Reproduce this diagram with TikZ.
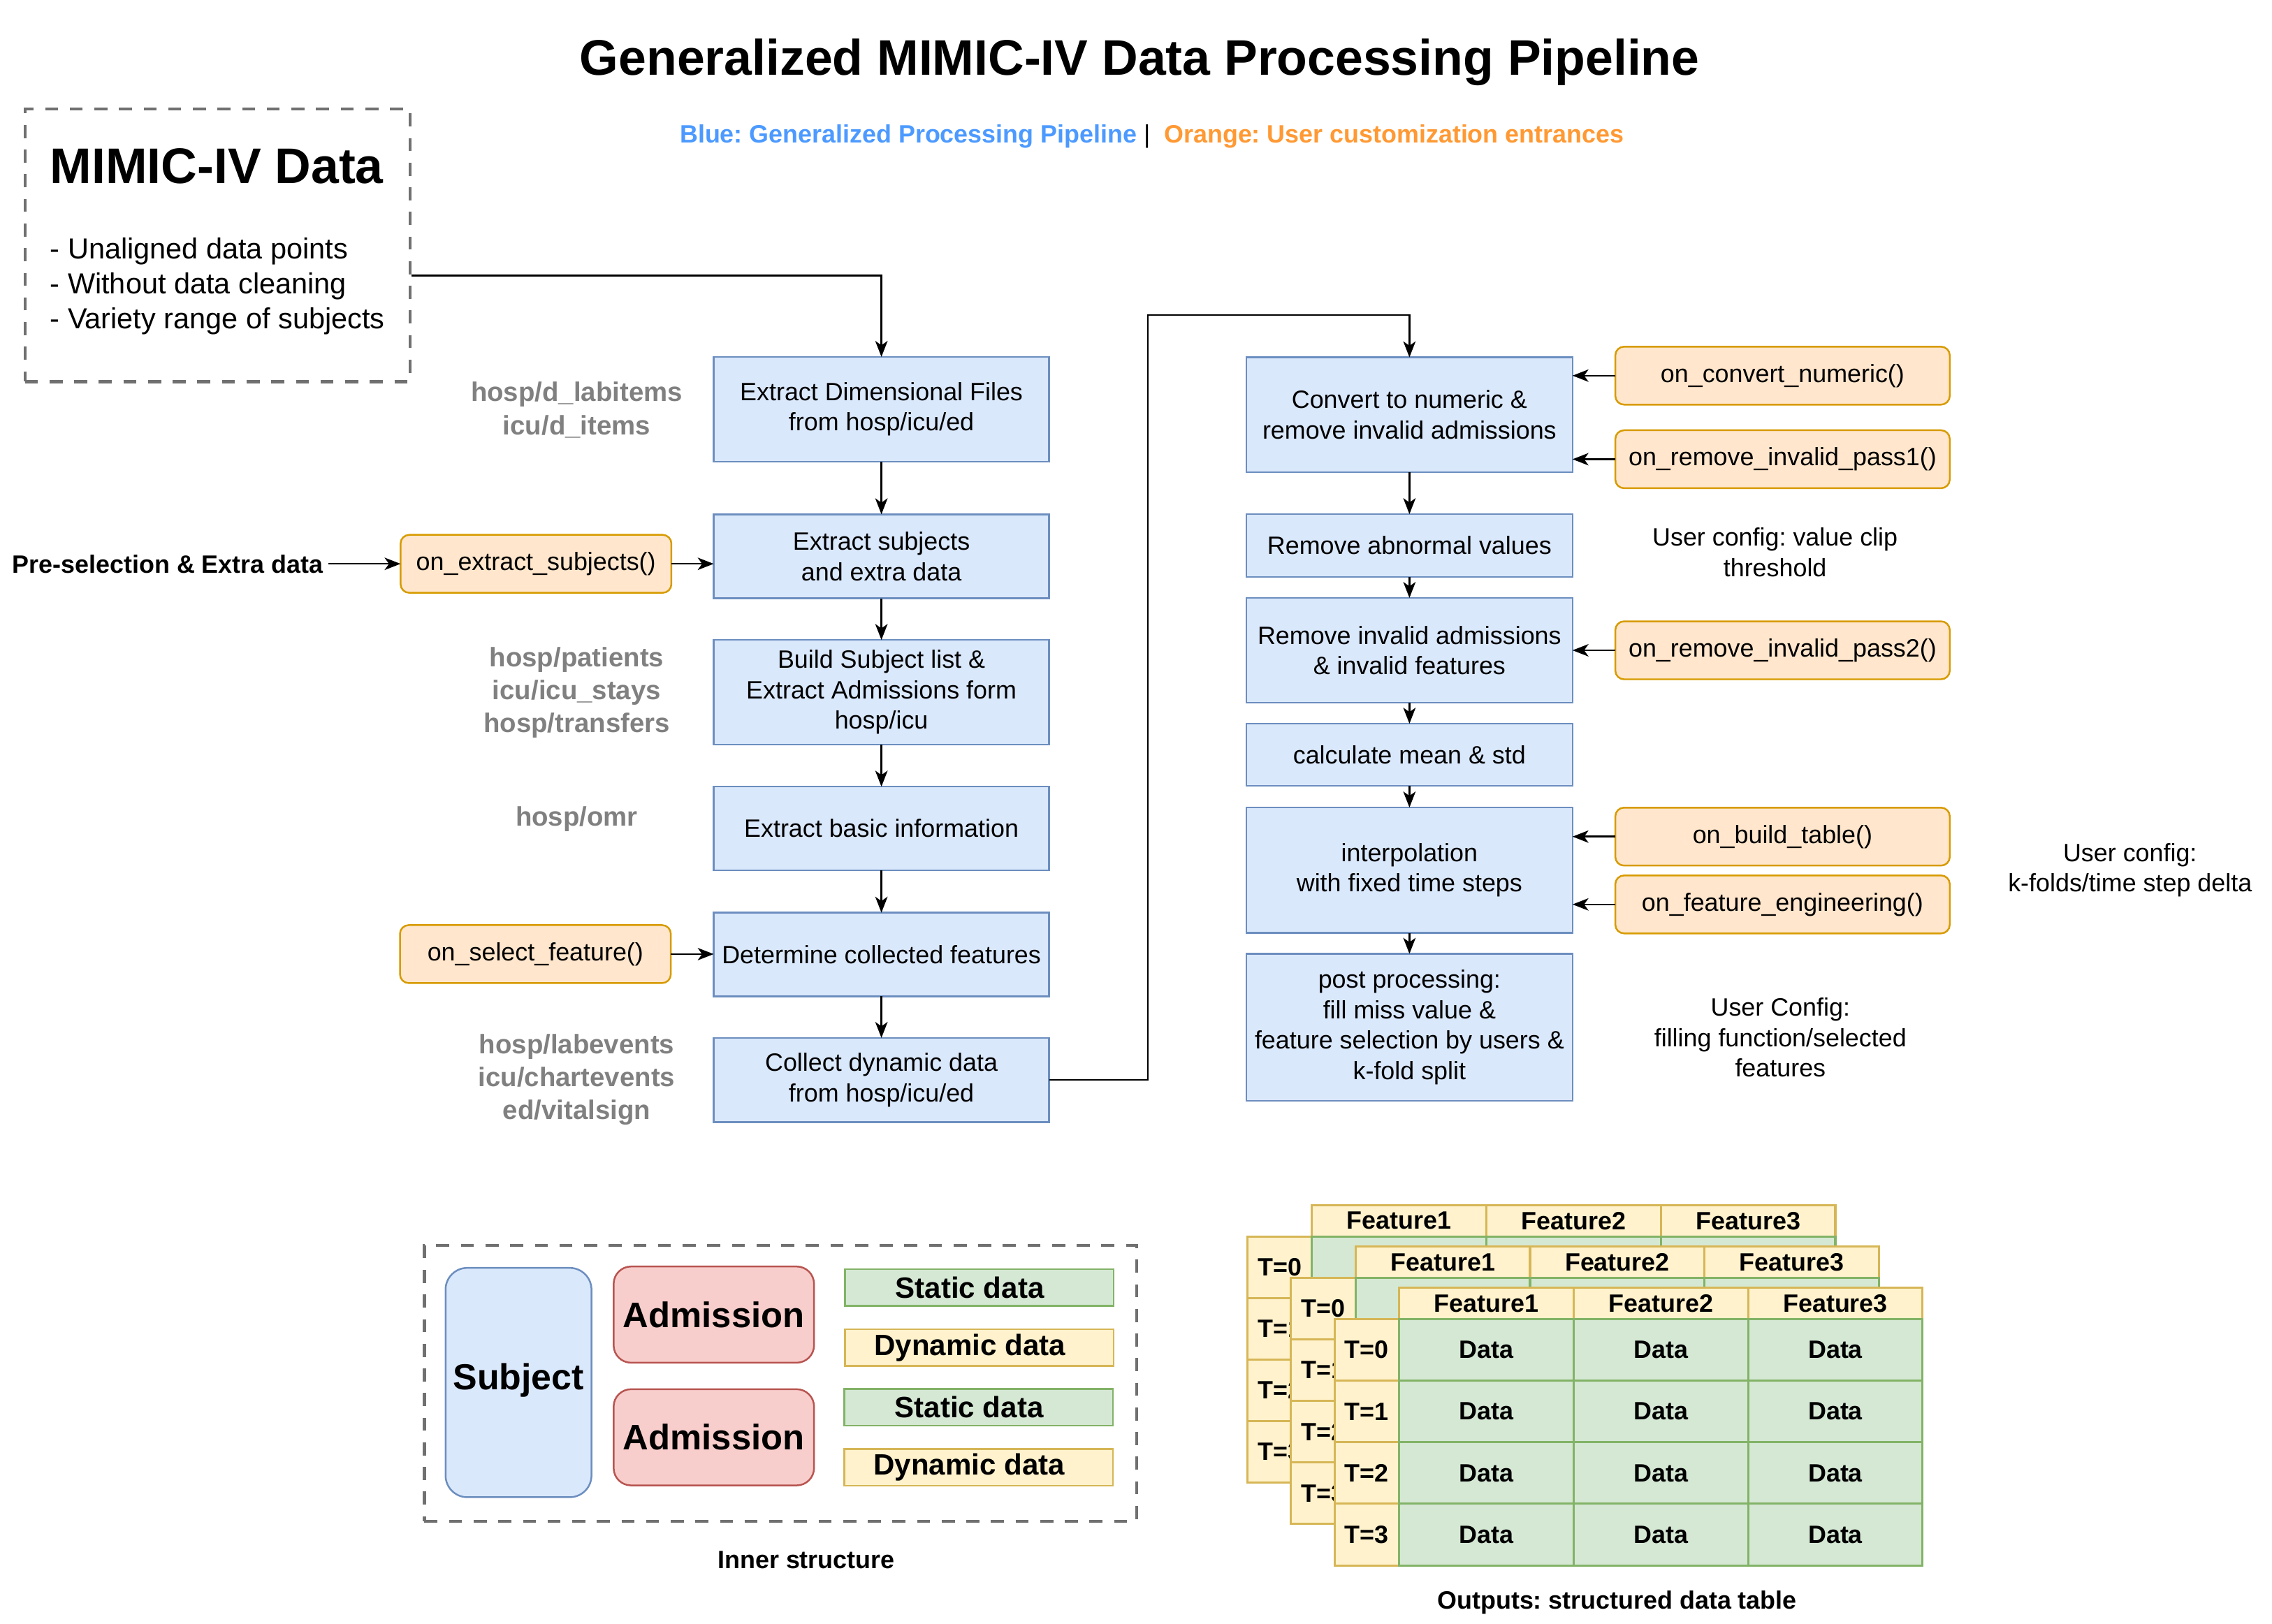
\documentclass[tikz,border=0pt]{standalone}
\usepackage{fontspec}
\setmainfont{Liberation Sans}
\usetikzlibrary{arrows.meta}
\frenchspacing
\definecolor{pipeFill}{HTML}{DAE8FC}
\definecolor{pipeDraw}{HTML}{6C8EBF}
\definecolor{hookFill}{HTML}{FFE6CC}
\definecolor{hookDraw}{HTML}{D79B00}
\definecolor{staticFill}{HTML}{D5E8D4}
\definecolor{staticDraw}{HTML}{82B366}
\definecolor{dynFill}{HTML}{FFF2CC}
\definecolor{dynDraw}{HTML}{D6B656}
\definecolor{admFill}{HTML}{F8CECC}
\definecolor{admDraw}{HTML}{B85450}
\definecolor{srcGray}{HTML}{808080}
\definecolor{frameGray}{HTML}{707070}
\definecolor{legendBlue}{HTML}{4C9AFF}
\definecolor{legendOrange}{HTML}{FF9933}
\newcommand\boxFont{\fontsize{17.3}{21}\selectfont}
\newcommand\boldFont{\fontsize{17.3}{21}\selectfont\bfseries}
\newcommand\srcFont{\fontsize{18.5}{22.7}\selectfont\bfseries}
\newcommand\bigFont{\fontsize{34.5}{40}\selectfont\bfseries}
\newcommand\cellWidth{120.4}
\newcommand\cellHeight{42.5}
\newcommand\headHeight{21.5}
\newcommand\labelWidth{44.7}
\tikzset{
	pipebox/.style={draw=pipeDraw, fill=pipeFill, line width=1.2pt, inner sep=0pt, outer sep=0pt, minimum width=231.5pt, align=center, font=\boxFont},
	hookbox/.style={draw=hookDraw, fill=hookFill, line width=1.2pt, rounded corners=6pt, inner sep=0pt, outer sep=0pt, minimum height=40pt, align=center, font=\boxFont},
	srclabel/.style={text=srcGray, inner sep=0pt, align=center, font=\srcFont},
	cfgnote/.style={inner sep=0pt, align=center, font=\boxFont},
	flowarrow/.style={line width=1.2pt, -{Stealth[length=11pt,width=8.5pt,inset=3pt]}},
	dashframe/.style={draw=frameGray, line width=2pt, dash pattern=on 9pt off 8pt, inner sep=0pt},
	admbox/.style={draw=admDraw, fill=admFill, line width=1.2pt, rounded corners=12pt, inner sep=0pt, minimum width=138.3pt, minimum height=66.4pt, font=\fontsize{24.5}{29}\selectfont\bfseries},
	datapart/.style={line width=1.2pt, inner sep=0pt, minimum width=185.4pt, minimum height=25.3pt, font=\fontsize{20.3}{24}\selectfont\bfseries},
	headcell/.style={draw=dynDraw, fill=dynFill, line width=1.5pt, inner sep=0pt, minimum width=\cellWidth pt, minimum height=\headHeight pt, font=\boldFont},
	datacell/.style={draw=staticDraw, fill=staticFill, line width=1.5pt, inner sep=0pt, minimum width=\cellWidth pt, minimum height=\cellHeight pt, font=\boldFont}
}
\newcommand\drawOutputTable[4]{
	\foreach \c [count=\k from 0] in {1,2,3}{
		\node[headcell, anchor=north west] (#3-f\c) at (#1+\labelWidth+\k*\cellWidth, #2) {Feature\c};
	}
	\foreach \r in {0,...,3}{
		\node[headcell, anchor=north west, minimum width=\labelWidth pt, minimum height=\cellHeight pt] (#3-t\r) at (#1, #2+\headHeight+\r*\cellHeight) {T=\r};
		\foreach \c [count=\k from 0] in {1,2,3}{
			\node[datacell, anchor=north west] (#3-d\r\c) at (#1+\labelWidth+\k*\cellWidth, #2+\headHeight+\r*\cellHeight) {#4};
		}
	}
}

\begin{document}
\begin{tikzpicture}[x=1pt, y=-1pt]
	\useasboundingbox (0,0) rectangle (1568,1121);
	
	\node[inner sep=0pt, font=\bigFont] (title) at (786.5,43) {Generalized MIMIC-IV Data Processing Pipeline};
	\node[anchor=west, inner sep=0pt, font=\boldFont] (legend) at (469,94) {{\color{legendBlue}Blue: Generalized Processing Pipeline}~\textmd{|}~~{\color{legendOrange}Orange: User customization entrances}};
	
	\node[dashframe, minimum width=265.8pt, minimum height=188.3pt] (mimic) at (150.1,169.35) {};
	\node[anchor=west, inner sep=0pt, font=\bigFont] (mimicTitle) at (34.4,114.9) {MIMIC-IV Data};
	\node[anchor=west, inner sep=0pt, align=left, font=\fontsize{20}{24.2}\selectfont] (mimicNotes) at (34.4,197.6) {- Unaligned data points\\- Without data cleaning\\- Variety range of subjects};
	
	\node[pipebox, minimum height=72.3pt] (dimFiles) at (608.3,282.5) {Extract Dimensional Files\\from hosp/icu/ed};
	\node[pipebox, minimum height=58pt] (subjects) at (608.3,384) {Extract subjects\\and extra data};
	\node[pipebox, minimum height=72.3pt] (admissions) at (608.3,477.9) {Build Subject list \&\\Extract Admissions form\\hosp/icu};
	\node[pipebox, minimum height=57.8pt] (basicInfo) at (608.3,571.9) {Extract basic information};
	\node[pipebox, minimum height=57.8pt] (features) at (608.3,658.9) {Determine collected features};
	\node[pipebox, minimum height=58.1pt] (dynamic) at (608.3,745.5) {Collect dynamic data\\from hosp/icu/ed};
	
	\node[srclabel] (srcDim) at (398,283) {hosp/d\_labitems\\icu/d\_items};
	\node[srclabel] (srcAdm) at (398,478) {hosp/patients\\icu/icu\_stays\\hosp/transfers};
	\node[srclabel] (srcOmr) at (398,565.3) {hosp/omr};
	\node[srclabel] (srcEvents) at (398,745.4) {hosp/labevents\\icu/chartevents\\ed/vitalsign};
	
	\node[font=\boldFont] (preSelect) at (115.8,389.2) {Pre-selection \& Extra data};
	\node[hookbox, minimum width=186.9pt] (onExtract) at (369.9,389.2) {on\_extract\_subjects()};
	\node[hookbox, minimum width=186.9pt] (onSelect) at (369.5,658.6) {on\_select\_feature()};
	
	\node[pipebox, minimum width=225.1pt, minimum height=79.3pt] (numeric) at (972.7,286.3) {Convert to numeric \&\\remove invalid admissions};
	\node[pipebox, minimum width=225.1pt, minimum height=43.4pt] (abnormal) at (972.7,376.6) {Remove abnormal values};
	\node[pipebox, minimum width=225.1pt, minimum height=72.3pt] (invalid) at (972.7,448.9) {Remove invalid admissions\\\& invalid features};
	\node[pipebox, minimum width=225.1pt, minimum height=42.9pt] (meanStd) at (972.7,521) {calculate mean \& std};
	\node[pipebox, minimum width=225.1pt, minimum height=86.6pt] (interp) at (972.7,600.7) {interpolation\\with fixed time steps};
	\node[pipebox, minimum width=225.1pt, minimum height=101.6pt] (postProc) at (972.7,709.2) {post processing:\\fill miss value \&\\feature selection by users \&\\k-fold split};
	
	\node[hookbox, minimum width=230.8pt] (onConvert) at (1230.2,259.3) {on\_convert\_numeric()};
	\node[hookbox, minimum width=230.8pt] (onPassOne) at (1230.2,317) {on\_remove\_invalid\_pass1()};
	\node[hookbox, minimum width=230.8pt] (onPassTwo) at (1230.2,448.9) {on\_remove\_invalid\_pass2()};
	\node[hookbox, minimum width=230.8pt] (onTable) at (1230.2,577.5) {on\_build\_table()};
	\node[hookbox, minimum width=230.8pt] (onEngineer) at (1230.2,624.3) {on\_feature\_engineering()};
	
	\node[cfgnote] (cfgClip) at (1225,381.3) {User config: value clip\\threshold};
	\node[cfgnote] (cfgFold) at (1470,600.7) {User config:\\k-folds/time step delta};
	\node[cfgnote] (cfgFill) at (1228.7,716.3) {User Config:\\filling function/selected\\features};
	
	\draw[flowarrow] ([yshift=-20.85pt]mimic.east) -| (dimFiles.north);
	\foreach \a/\b in {dimFiles/subjects, subjects/admissions, admissions/basicInfo, basicInfo/features, features/dynamic, numeric/abnormal, abnormal/invalid, invalid/meanStd, meanStd/interp, interp/postProc}{
		\draw[flowarrow] (\a.south) to (\b.north);
	}
	\draw[flowarrow] (preSelect) to (onExtract);
	\draw[flowarrow] (onExtract.east) to (onExtract.east -| subjects.west);
	\draw[flowarrow] (onSelect.east) to (onSelect.east -| features.west);
	\coordinate (loopTop) at (792.2,217.5);
	\draw[flowarrow] (dynamic.east) -| (loopTop) -| (numeric.north);
	\foreach \h/\p in {onConvert/numeric, onPassOne/numeric, onPassTwo/invalid, onTable/interp, onEngineer/interp}{
		\draw[flowarrow] (\h.west) to (\h.west -| \p.east);
	}
	
	\node[dashframe, minimum width=491.5pt, minimum height=190.2pt] (inner) at (538.65,954.9) {};
	\node[draw=pipeDraw, fill=pipeFill, line width=1.2pt, rounded corners=15pt, inner sep=0pt, minimum width=100.7pt, minimum height=158.3pt, font=\fontsize{25}{30}\selectfont\bfseries] (subject) at (357.85,954.35) {\raisebox{8pt}{Subject}};
	\node[admbox] (admA) at (492.65,907.45) {Admission};
	\node[admbox] (admB) at (492.65,992.15) {Admission};
	\node[datapart, draw=staticDraw, fill=staticFill] (staticA) at (675.8,888.85) {Static data\kern13pt};
	\node[datapart, draw=dynDraw, fill=dynFill] (dynA) at (675.8,930.3) {Dynamic data\kern13pt};
	\node[datapart, draw=staticDraw, fill=staticFill] (staticB) at (675.3,971.5) {Static data\kern13pt};
	\node[datapart, draw=dynDraw, fill=dynFill] (dynB) at (675.3,1012.8) {Dynamic data\kern13pt};
	\node[inner sep=0pt, font=\boldFont] (innerCap) at (556.4,1077) {Inner structure};
	
	\drawOutputTable{860}{831.2}{tabA}{}
	\drawOutputTable{890.1}{859.75}{tabB}{}
	\drawOutputTable{920.2}{888.3}{tabC}{Data}
	\node[inner sep=0pt, font=\boldFont] (outCap) at (1116,1106) {Outputs: structured data table};
\end{tikzpicture}
\end{document}
